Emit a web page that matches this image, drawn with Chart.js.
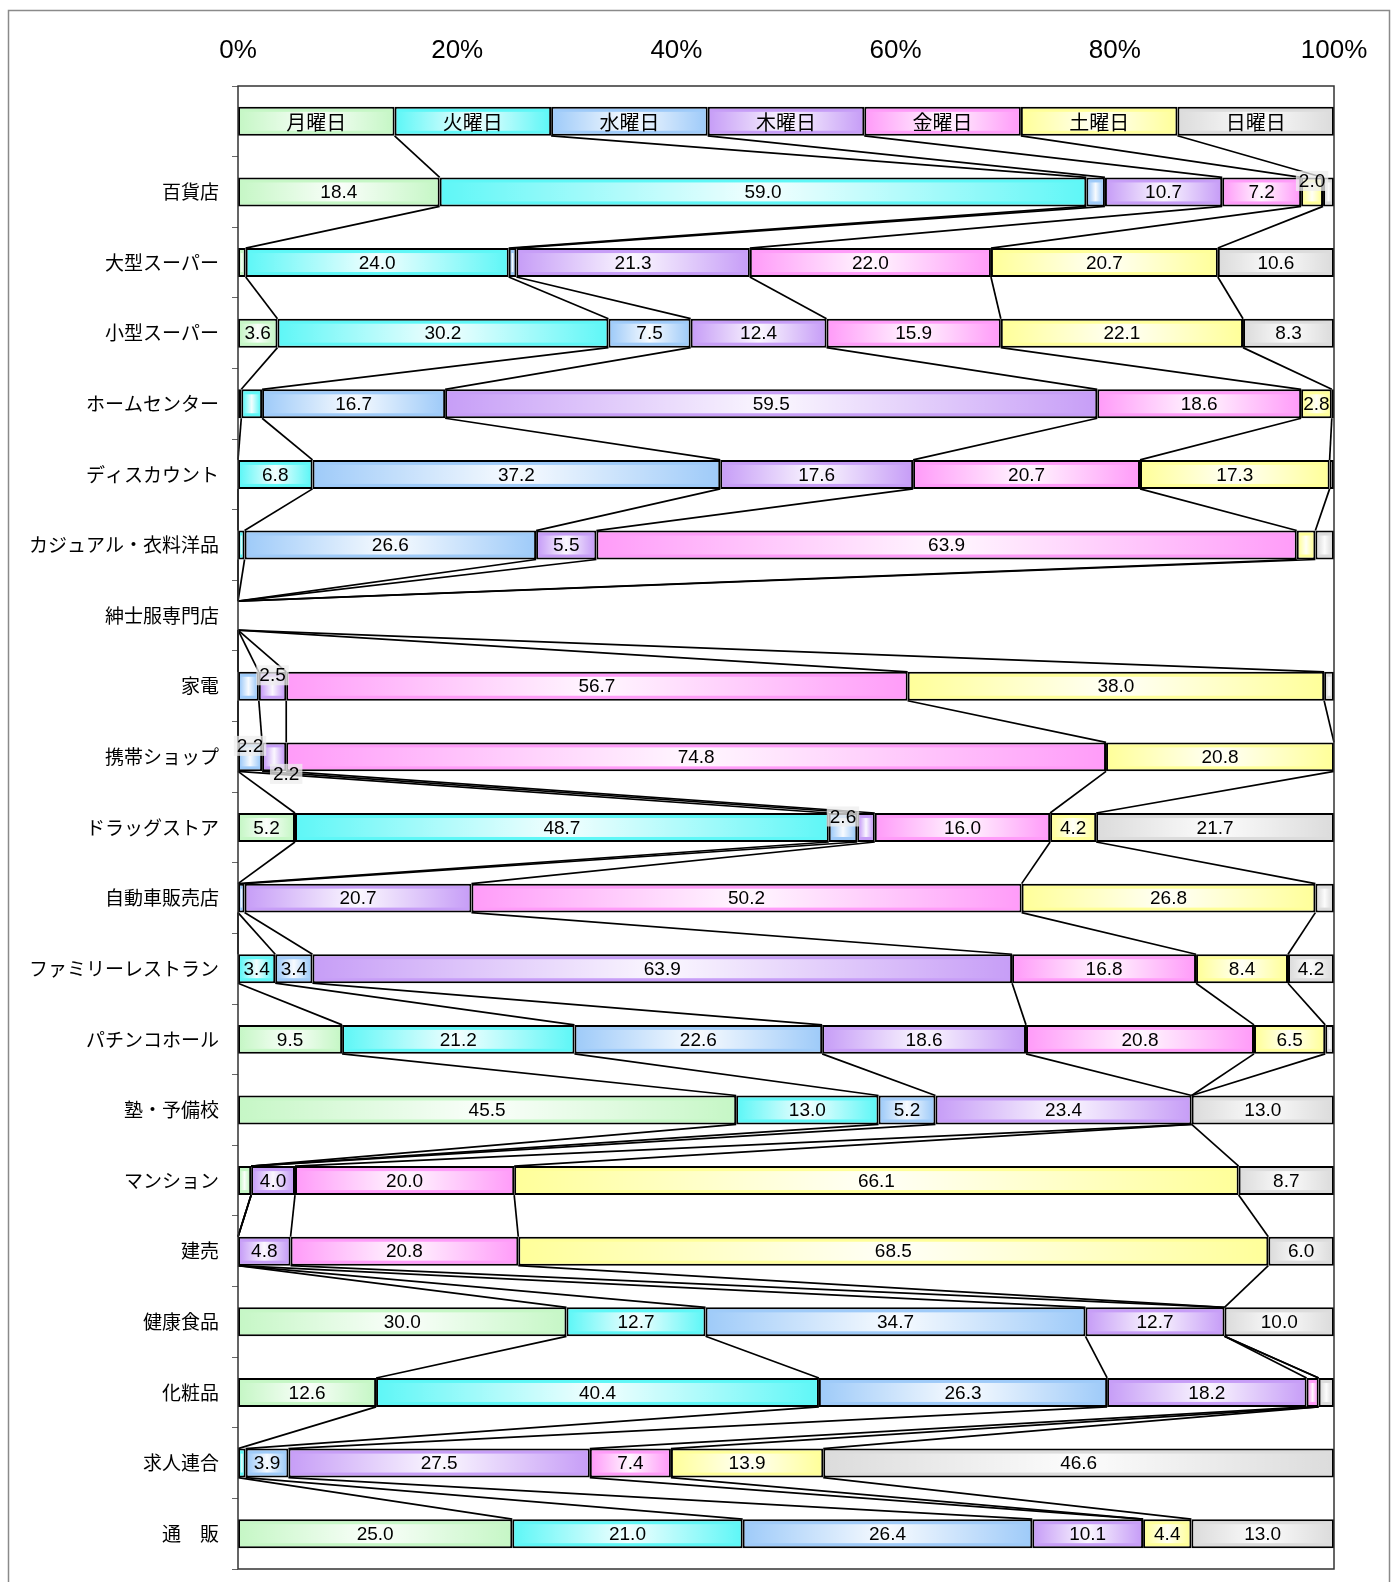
<!DOCTYPE html>
<html lang="ja">
<head>
<meta charset="utf-8">
<title>業種別 曜日構成比</title>
<script src="https://cdn.jsdelivr.net/npm/chart.js@4.4.0/dist/chart.umd.min.js"></script>
<style>
  html, body { margin: 0; padding: 0; background: #fff; }
  #wrap { width: 1391px; height: 1582px; }
</style>
</head>
<body>
<div id="wrap"><canvas id="weekday-chart" width="1391" height="1582"></canvas></div>
<script>
// first row is the colour key, the rest are the business types
const categories = ['', '百貨店', '大型スーパー', '小型スーパー', 'ホームセンター', 'ディスカウント',
    'カジュアル・衣料洋品', '紳士服専門店', '家電', '携帯ショップ', 'ドラッグストア', '自動車販売店',
    'ファミリーレストラン', 'パチンコホール', '塾・予備校', 'マンション', '建売', '健康食品', '化粧品',
    '求人連合', '通　販'];
const dayNames = ['月曜日', '火曜日', '水曜日', '木曜日', '金曜日', '土曜日', '日曜日'];
const dayColors = ['#c6f7c6', '#5ff7f7', '#9fcbf9', '#c79ef7', '#ff9cf9', '#ffff9a', '#dcdcdc'];
// equal shares for the key row
const legendRow = [1, 1, 1, 1, 1, 1, 1];

// share (%) per weekday, in the order of categories (key row excluded)
const monday    = [18.4, 0.7, 3.6, 0.3, 0, 0, 0, 0, 0, 5.2, 0, 0, 9.5, 45.5, 1.2, 0, 30.0, 12.6, 0, 25.0];
const tuesday   = [59.0, 24.0, 30.2, 1.9, 6.8, 0.6, 0, 0, 0, 48.7, 0, 3.4, 21.2, 13.0, 0, 0, 12.7, 40.4, 0.7, 21.0];
const wednesday = [1.7, 0.7, 7.5, 16.7, 37.2, 26.6, 0, 1.9, 2.2, 2.6, 0.6, 3.4, 22.6, 5.2, 0, 0, 34.7, 26.3, 3.9, 26.4];
const thursday  = [10.7, 21.3, 12.4, 59.5, 17.6, 5.5, 0, 2.5, 2.2, 1.6, 20.7, 63.9, 18.6, 23.4, 4.0, 4.8, 12.7, 18.2, 27.5, 10.1];
const friday    = [7.2, 22.0, 15.9, 18.6, 20.7, 63.9, 0, 56.7, 74.8, 16.0, 50.2, 16.8, 20.8, 0, 20.0, 20.8, 0, 1.1, 7.4, 0];
const saturday  = [2.0, 20.7, 22.1, 2.8, 17.3, 1.7, 0, 38.0, 20.8, 4.2, 26.8, 8.4, 6.5, 0, 66.1, 68.5, 0, 0, 13.9, 4.4];
const sunday    = [1.0, 10.6, 8.3, 0.2, 0.4, 1.7, 0, 0.9, 0, 21.7, 1.7, 4.2, 0.8, 13.0, 8.7, 6.0, 10.0, 1.4, 46.6, 13.0];

const xTicks = [0, 20, 40, 60, 80, 100];

const seriesValues = [monday, tuesday, wednesday, thursday, friday, saturday, sunday];
const fullRows = seriesValues.map((vals, i) => [legendRow[i], ...vals]);
const rowTotals = categories.map((_, r) => fullRows.reduce((s, vals) => s + vals[r], 0));
// 100% stacked: each row scaled to its own total
const shares = fullRows.map(vals => vals.map((v, r) => rowTotals[r] ? v / rowTotals[r] * 100 : 0));

const labelFont = '19px "Liberation Sans", Arial, sans-serif';
const keyFont = '20px "Noto Sans CJK JP", sans-serif';

const weekdayDecor = {
    id: 'weekdayDecor',
    beforeDraw(chart) {
        const ctx = chart.ctx;
        ctx.save();
        ctx.fillStyle = '#fff';
        ctx.fillRect(0, 0, chart.width, chart.height);
        // outer frame runs off the bottom of the picture
        ctx.strokeStyle = '#8a8a8a';
        ctx.lineWidth = 1.5;
        ctx.strokeRect(8.5, 10.5, chart.width - 10, chart.height + 10);
        ctx.restore();
    },
    afterDatasetsDraw(chart) {
        const ctx = chart.ctx;
        const area = chart.chartArea;
        const metas = chart.data.datasets.map((_, i) => chart.getDatasetMeta(i));
        const props = bar => bar.getProps(['x', 'y', 'base', 'height'], true);

        ctx.save();
        // white sheen in the middle of each segment
        metas.forEach(meta => meta.data.forEach(bar => {
            const { x, y, base, height } = props(bar);
            const left = Math.min(x, base) + 2, right = Math.max(x, base) - 2;
            if (right - left < 2) return;
            const top = y - height / 2 + 5, bottom = y + height / 2 - 5;
            const g = ctx.createLinearGradient(left, 0, right, 0);
            g.addColorStop(0, 'rgba(255,255,255,0)');
            g.addColorStop(0.5, 'rgba(255,255,255,0.92)');
            g.addColorStop(1, 'rgba(255,255,255,0)');
            ctx.fillStyle = g;
            ctx.fillRect(left, top, right - left, bottom - top);
        }));

        // series lines between the ends of each segment
        ctx.strokeStyle = '#000';
        ctx.lineWidth = 1.7;
        metas.slice(0, -1).forEach(meta => {
            for (let r = 0; r < meta.data.length - 1; r++) {
                const a = props(meta.data[r]);
                const b = props(meta.data[r + 1]);
                ctx.beginPath();
                ctx.moveTo(a.x, a.y + a.height / 2);
                ctx.lineTo(b.x, b.y - b.height / 2);
                ctx.stroke();
            }
        });

        // plot frame
        ctx.strokeStyle = '#333';
        ctx.lineWidth = 1.5;
        ctx.strokeRect(area.left, area.top, area.right - area.left, area.bottom - area.top);

        // labels
        ctx.textAlign = 'center';
        ctx.textBaseline = 'middle';
        categories.forEach((_, r) => {
            let lastShift = null;
            metas.forEach((meta, i) => {
                const { x, y, base } = props(meta.data[r]);
                const cx = (x + base) / 2;
                if (r === 0) {
                    ctx.font = keyFont;
                    ctx.fillStyle = '#000';
                    ctx.fillText(dayNames[i], cx, y + 1);
                    return;
                }
                const v = seriesValues[i][r - 1];
                if (v < 2) return;
                ctx.font = labelFont;
                const text = v.toFixed(1);
                const tw = ctx.measureText(text).width;
                const segW = Math.abs(x - base);
                if (segW >= tw + 4) {
                    ctx.fillStyle = '#000';
                    ctx.fillText(text, cx, y + 1);
                    lastShift = null;
                    return;
                }
                // too narrow: lift the label out of the bar
                let dy = -11, lx = cx;
                if (lastShift && lastShift.dy < 0 && Math.abs(lastShift.x - cx) < tw + 4) {
                    dy = 17;
                    lx = cx + 12;
                }
                ctx.fillStyle = 'rgba(238,238,238,0.75)';
                ctx.fillRect(lx - tw / 2 - 3, y + dy - 10, tw + 6, 20);
                ctx.fillStyle = '#000';
                ctx.fillText(text, lx, y + dy + 1);
                lastShift = { x: lx, dy };
            });
        });
        ctx.restore();
    }
};

new Chart(document.getElementById('weekday-chart').getContext('2d'), {
    type: 'bar',
    data: {
        labels: categories,
        datasets: dayNames.map((name, i) => ({
            label: name,
            data: shares[i],
            backgroundColor: dayColors[i],
            borderColor: '#000',
            borderWidth: 2,
            borderSkipped: false,
            categoryPercentage: 1,
            barPercentage: 0.41
        }))
    },
    options: {
        indexAxis: 'y',
        responsive: false,
        animation: false,
        layout: { padding: { left: 0, top: 0, right: 57, bottom: 13 } },
        plugins: {
            legend: { display: false },
            tooltip: { enabled: false }
        },
        scales: {
            x: {
                position: 'top',
                stacked: true,
                min: 0,
                max: 100,
                afterBuildTicks: scale => { scale.ticks = xTicks.map(v => ({ value: v })); },
                afterFit: scale => { scale.height = 86; },
                grid: { display: false, drawTicks: false },
                border: { display: false },
                ticks: {
                    color: '#000',
                    padding: 20,
                    maxRotation: 0,
                    font: { family: '"Liberation Sans", Arial, sans-serif', size: 26 },
                    callback: v => v + '%'
                }
            },
            y: {
                stacked: true,
                afterFit: scale => {
                    scale.width = 238;
                    scale.paddingTop = 0;
                    scale.paddingBottom = 0;
                },
                grid: {
                    display: true,
                    drawOnChartArea: false,
                    drawTicks: true,
                    tickLength: 6,
                    color: '#666',
                    offset: true
                },
                border: { display: false },
                ticks: {
                    color: '#000',
                    padding: 13,
                    autoSkip: false,
                    font: { family: '"Noto Sans CJK JP", sans-serif', size: 19 }
                }
            }
        }
    },
    plugins: [weekdayDecor]
});
</script>
</body>
</html>
